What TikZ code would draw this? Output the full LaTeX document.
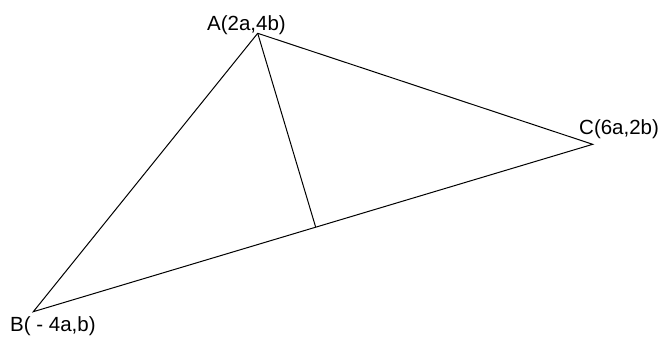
\documentclass[tikz,border=0pt]{standalone}
\usepackage{fontspec}
\setmainfont{Liberation Sans}
\usetikzlibrary{calc}
\begin{document}
\begin{tikzpicture}[x=1pt,y=-1pt,
  edge/.style={line width=1pt},
  lbl/.style={inner sep=0pt,anchor=base west,font=\fontsize{20.5}{24}\selectfont}]
\useasboundingbox (0,0) rectangle (661,342);
\coordinate (A) at (257.7,33.3);
\coordinate (B) at (33.3,311.7);
\coordinate (C) at (592.7,144.3);
\coordinate (D) at ($(B)!(A)!(C)$);
\draw[edge] (A) -- (B) -- (C) -- cycle;
\draw[edge] (A) -- (D);
\node[lbl] (la) at (207,30.7) {A(2a,4b)};
\node[lbl] (lb) at (10,331.7) {B( - 4a,b)};
\node[lbl] (lc) at (579,135) {C(6a,2b)};
\end{tikzpicture}
\end{document}
